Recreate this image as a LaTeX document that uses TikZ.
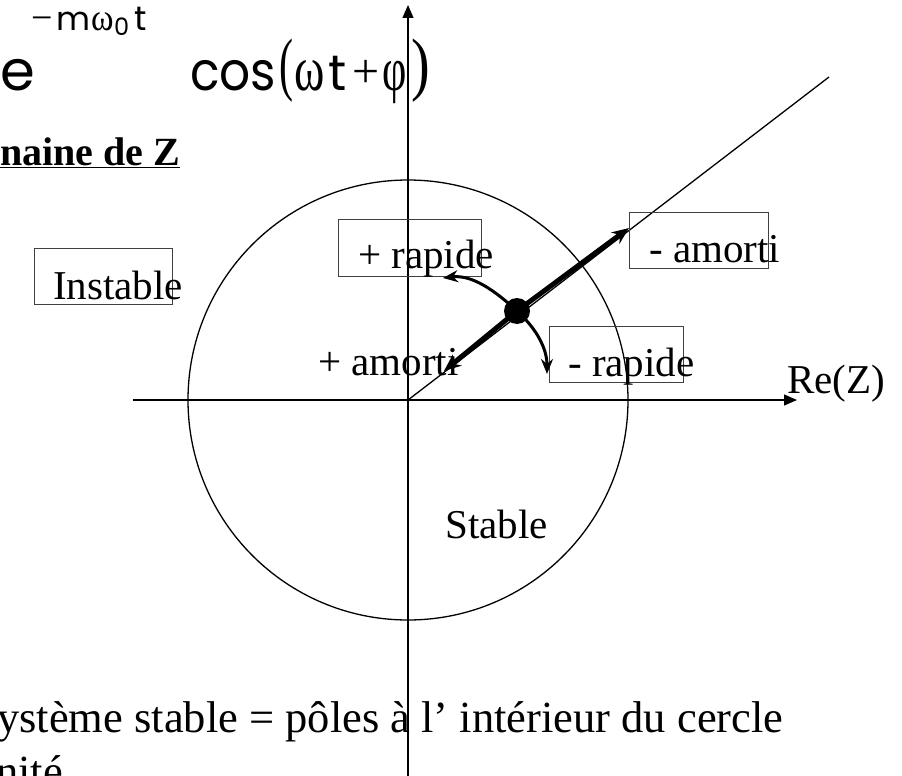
\documentclass[tikz,border=0pt]{standalone}
\usepackage{fontspec}
\setmainfont{Liberation Serif}
\newfontfamily\comic{Poppins}
\usetikzlibrary{arrows.meta}
\tikzset{
  axisline/.style={line width=1.3pt, -{Triangle[length=13pt,width=11pt]}},
  plainline/.style={line width=1.3pt},
  boxframe/.style={draw=black!75, line width=0.8pt, inner sep=0pt, rectangle},
  lbl/.style={anchor=base west, inner sep=0pt, font=\fontsize{41}{41}\selectfont},
  bigarrow/.style={line width=5pt, -{Stealth[length=17pt,width=14pt]}},
  bendarrow/.style={line width=3pt, -{Stealth[length=15pt,width=12pt]}},
  poledot/.style={circle, fill=black, inner sep=0pt, minimum size=26pt},
  txt/.style={anchor=base west, inner sep=0pt}
}
\begin{document}
\begin{tikzpicture}[x=1pt,y=-1pt]
\useasboundingbox (0,0) rectangle (902,776);
% axes
\coordinate (O) at (408,400);
\coordinate (xs) at (133,400);
\coordinate (xe) at (797,400);
\coordinate (ys) at (408,776);
\coordinate (ye) at (408,5);
\coordinate (dg) at (829,77);
\draw[axisline] (xs) -- (xe);
\draw[axisline] (ys) -- (ye);
\node[circle, draw, line width=1.3pt, inner sep=0pt, minimum size=440pt] (C) at (O) {};
\draw[plainline] (O) -- (dg);
% boxes
\node[boxframe, minimum width=143pt, minimum height=57pt] (bRp) at (409.5,247.5) {};
\node[boxframe, minimum width=139pt, minimum height=56pt] (bAm) at (698.5,240) {};
\node[boxframe, minimum width=134pt, minimum height=56pt] (bRm) at (616,354) {};
\node[boxframe, minimum width=138pt, minimum height=56pt] (bIn) at (103,276) {};
% labels
\node[lbl] (tRp) at (358,268) {+ rapide};
\node[lbl] (tAm) at (649,262) {- amorti};
\node[lbl] (tRm) at (568,376) {- rapide};
\node[lbl] (tIn) at (53,299) {Instable};
\node[lbl] (tAp) at (318,375) {+ amorti};
\node[lbl] (tSt) at (445,538) {Stable};
\node[lbl] (tRe) at (787,393) {Re(Z)};
% pole and arrows
\node[poledot] (P) at (517,311) {};
\coordinate (tUR) at (629,228);
\coordinate (tLL) at (444,371);
\draw[bigarrow] (P.center) -- (tUR);
\draw[bigarrow] (P.center) -- (tLL);
\coordinate (cU) at (443,278);
\coordinate (cD) at (547,374);
\draw[bendarrow] (P.center) .. controls (488,284) and (468,275) .. (cU);
\draw[bendarrow] (P.center) .. controls (538,330) and (547,350) .. (cD);
% title formula
\node[txt, font=\comic\fontsize{56}{56}\selectfont] (fe) at (0,90) {e};
\node[txt, font=\fontsize{38}{38}\selectfont] (fsup) at (31,31) {−\hspace{4pt}{\comic\fontsize{33}{33}\selectfont m}\hspace{1pt}\scalebox{0.9}[1]{ω}{\comic\raisebox{-5pt}{\fontsize{24}{24}\selectfont 0}\hspace{5pt}\fontsize{34}{34}\selectfont t}};
\node[txt, font=\comic\fontsize{54}{54}\selectfont] (fcos) at (190,90) {\scalebox{0.9}[1]{cos}};
\node[txt, font=\fontsize{70}{70}\selectfont] (flp) at (279,87) {\scalebox{0.6}[1]{(}};
\node[txt, font=\fontsize{64}{64}\selectfont] (fom) at (294,90) {\scalebox{0.72}[1]{ω}};
\node[txt, font=\comic\fontsize{50}{50}\selectfont] (ft) at (328,90) {t};
\node[txt, font=\fontsize{48}{48}\selectfont] (fpl) at (352,88) {+};
\node[txt, font=\fontsize{62}{62}\selectfont] (fphi) at (382,90) {\scalebox{0.68}[1]{φ}};
\node[txt, font=\fontsize{70}{70}\selectfont] (frp) at (411,87) {\scalebox{0.8}[1]{)}};
% heading
\node[txt, font=\bfseries\fontsize{40}{40}\selectfont] (head) at (0,165) {\underline{naine de Z}};
% bottom text
\node[txt, font=\fontsize{44.5}{44.5}\selectfont] (bt1) at (-3,732) {ystème stable = pôles à l’ intérieur du cercle};
\node[txt, font=\fontsize{44.5}{44.5}\selectfont] (bt2) at (-4,786) {nité};
\end{tikzpicture}
\end{document}
